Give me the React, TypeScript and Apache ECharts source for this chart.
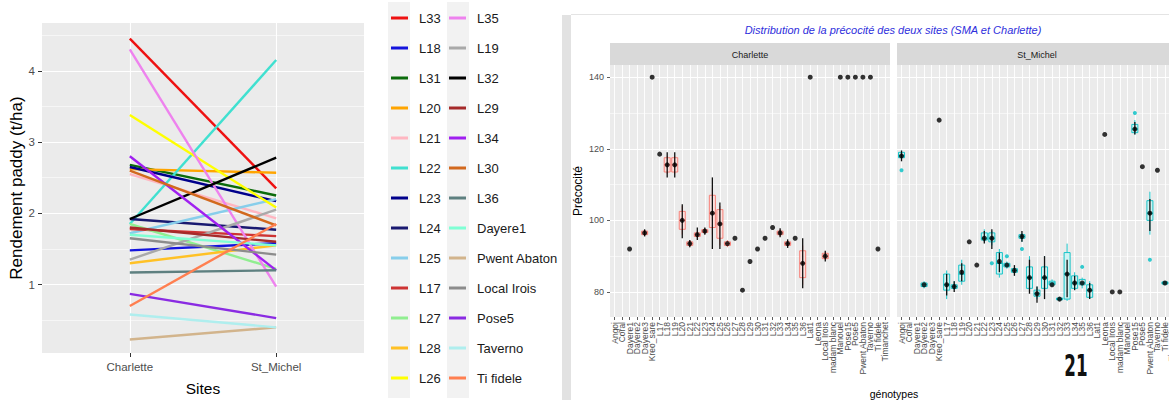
import React, { useEffect, useRef } from "react";
import * as echarts from "echarts";

// ---------- Left chart: yield per site ----------
const sites = ["Charlette", "St_Michel"];
const varieties = [
  "L33", "L18", "L31", "L20", "L21", "L22", "L23", "L24", "L25", "L17", "L27", "L28", "L26",
  "L35", "L19", "L32", "L29", "L34", "L30", "L36", "Dayere1", "Pwent Abaton", "Local Irois", "Pose5", "Taverno", "Ti fidele",
];
const yieldCharlette = [
  4.45, 1.48, 2.68, 2.62, 2.55, 1.85, 2.65, 1.92, 1.72, 1.78, 1.85, 1.3, 3.38,
  4.3, 1.35, 1.92, 1.8, 2.8, 2.6, 1.17, 1.7, 0.23, 1.65, 0.87, 0.58, 0.7,
];
const yieldStMichel = [
  2.35, 1.58, 2.25, 2.57, 1.93, 4.15, 2.17, 1.77, 2.2, 1.68, 1.22, 1.55, 2.08,
  0.97, 2.05, 2.78, 1.6, 1.2, 1.83, 1.2, 1.55, 0.4, 1.42, 0.53, 0.4, 1.85,
];
const lineColors = [
  "#EE1111", "#1414DD", "#0B6B0B", "#FFA500", "#FFB6C1", "#40E0D0", "#00008B", "#191970", "#87CEEB", "#CD3333", "#90EE90", "#FFC125", "#FFFF00",
  "#EE82EE", "#A9A9A9", "#000000", "#A52A2A", "#A020F0", "#D2691E", "#5E8080", "#7FFFD4", "#D2B48C", "#8C8C8C", "#8A2BE2", "#AFEEEE", "#FF7F50",
];
const legendCol1 = ["L33", "L18", "L31", "L20", "L21", "L22", "L23", "L24", "L25", "L17", "L27", "L28", "L26"];
const legendCol2 = ["L35", "L19", "L32", "L29", "L34", "L30", "L36", "Dayere1", "Pwent Abaton", "Local Irois", "Pose5", "Taverno", "Ti fidele"];
const yieldTicks = [1, 2, 3, 4];
const yieldMinor = [0.5, 1.5, 2.5, 3.5, 4.5];

// ---------- Right chart: precocity per genotype ----------
const genotypes = [
  "Angoi", "Coral", "Dayere1", "Dayere2", "Dayere3", "Kreo_sare", "L17", "L18", "L19", "L20", "L21", "L22", "L23", "L24",
  "L25", "L26", "L27", "L28", "L29", "L30", "L31", "L32", "L33", "L34", "L35", "L36", "Lat1", "Leona", "Local Irois",
  "madam blanc", "Manouel", "Pose15", "Pose5", "Pwent Abaton", "Taverno", "Ti fidele", "Timanchet",
];
const precTicks = [80, 100, 120, 140];
const precMinor = [90, 110, 130];

const charletteMeans: [string, number][] = [
  ["Dayere1", 92], ["Dayere3", 96.5], ["Kreo_sare", 140], ["L17", 118.5], ["L18", 115.5], ["L19", 115.5], ["L20", 100],
  ["L21", 93.5], ["L22", 96], ["L23", 97], ["L24", 102], ["L25", 99], ["L26", 93.5], ["L27", 95], ["L28", 80.5],
  ["L29", 88.5], ["L30", 92], ["L31", 95], ["L32", 98], ["L33", 96.5], ["L34", 93.5], ["L35", 95], ["L36", 88],
  ["Lat1", 140], ["Local Irois", 90], ["Manouel", 140], ["Pose15", 140], ["Pose5", 140], ["Pwent Abaton", 140],
  ["Taverno", 140], ["Ti fidele", 92],
];
const charletteBoxes: [string, number, number, number, number, number][] = [
  ["Dayere3", 95.8, 96, 96.5, 97, 97.3], ["L18", 113, 113.5, 115.5, 117.5, 118], ["L19", 113, 113.5, 115.5, 117.5, 118],
  ["L20", 96, 97.5, 100, 102.5, 104], ["L21", 92.5, 93, 93.5, 94, 94.5], ["L22", 95, 95.5, 96, 96.5, 97],
  ["L23", 96.3, 96.6, 97, 97.4, 97.7], ["L24", 96, 98, 102, 107, 109], ["L25", 93, 95, 99, 103, 104],
  ["L26", 92.5, 93, 93.5, 94, 94.5], ["L33", 95.5, 96, 96.5, 97, 97.5], ["L34", 92.5, 93, 93.5, 94, 94.5],
  ["L36", 82, 84, 88, 91.5, 93], ["Local Irois", 89, 89.3, 90, 90.8, 91.2],
];
const charletteErrors: [string, number, number][] = [
  ["Dayere3", 95.5, 97.5], ["L18", 112, 119], ["L19", 112, 119], ["L20", 95, 104.5], ["L21", 92.5, 94.5],
  ["L22", 94.5, 98], ["L23", 96, 98], ["L24", 92, 112], ["L25", 92, 105], ["L33", 95.3, 97.8], ["L34", 92.3, 94.7],
  ["L36", 81, 95], ["Local Irois", 88.5, 91.5],
];
const charletteOutliers: [string, number][] = [];

const stMichelMeans: [string, number][] = [
  ["Angoi", 118], ["Dayere2", 82], ["Kreo_sare", 128], ["L17", 82], ["L18", 81.5], ["L19", 85.5], ["L20", 94],
  ["L21", 87.5], ["L22", 95], ["L23", 95], ["L24", 88.5], ["L25", 87.5], ["L26", 86], ["L27", 95.5], ["L28", 84],
  ["L29", 79.5], ["L30", 84], ["L31", 82], ["L32", 78], ["L33", 85], ["L34", 82.5], ["L35", 82.5], ["L36", 80.5],
  ["Leona", 124], ["Local Irois", 80], ["madam blanc", 80], ["Pose15", 125.5], ["Pose5", 115], ["Pwent Abaton", 102],
  ["Taverno", 114], ["Ti fidele", 82.5],
];
const stMichelBoxes: [string, number, number, number, number, number][] = [
  ["Angoi", 117, 117.5, 118, 119, 119.5], ["Dayere2", 81, 81.5, 82, 82.5, 83], ["L17", 78, 80.5, 82, 85, 86],
  ["L18", 80.5, 81, 81.5, 82, 83], ["L19", 82, 83, 85, 87.5, 89], ["L22", 94, 94.5, 95, 96.5, 97.5],
  ["L23", 93, 94, 95, 96.5, 97], ["L24", 84, 85, 88, 91, 92], ["L25", 86.5, 87, 87.5, 88, 88.5],
  ["L26", 85, 85.5, 86, 86.5, 87], ["L27", 94, 95, 95.5, 96, 96.5], ["L28", 80, 81, 84, 87, 90],
  ["L29", 78, 78.8, 79.5, 80.5, 81.5], ["L30", 80, 81, 84, 87, 90], ["L31", 81.5, 82, 82.5, 83, 83.5],
  ["L32", 77.5, 77.8, 78, 78.3, 78.5], ["L33", 77.5, 78, 85, 91, 93.5], ["L34", 80.5, 81, 82.5, 84.5, 85.5],
  ["L35", 81, 82, 82.5, 83.5, 84], ["L36", 78, 78.5, 80.5, 82, 83], ["Pose15", 124, 124.5, 125.5, 126.8, 128],
  ["Pwent Abaton", 96, 100, 102, 105.5, 108], ["Ti fidele", 82, 82.2, 82.5, 82.8, 83],
];
const stMichelErrors: [string, number, number][] = [
  ["Angoi", 116.5, 119.5], ["L17", 79, 85], ["L18", 80, 83], ["L19", 83, 88], ["L22", 93.5, 97], ["L23", 92, 97.5],
  ["L24", 85.5, 91], ["L26", 84.5, 87.5], ["L27", 94, 97], ["L28", 79.5, 89], ["L29", 77, 81.5], ["L30", 78, 90],
  ["L33", 78.5, 89], ["L34", 80.5, 84.5], ["L36", 78, 82.5], ["Pose15", 124, 127.5], ["Pwent Abaton", 97, 106],
];
const stMichelOutliers: [string, number][] = [
  ["Angoi", 114], ["L23", 88], ["L25", 90], ["L27", 92], ["L35", 87], ["Pose15", 130], ["Pwent Abaton", 89],
];

const FONT = "'Liberation Sans', Arial, Helvetica, sans-serif";
const genoIndex = (name: string) => genotypes.indexOf(name) + 1;
const genoTicks = genotypes.map((_, i) => i + 1);
const oddTicks = genoTicks.filter((v) => v % 2 === 1);
const evenTicks = genoTicks.filter((v) => v % 2 === 0);

const majorLine = { color: "#FFFFFF", width: 1.1, type: "solid" };
const minorLine = { color: "#FFFFFF", width: 0.55, type: "solid" };

function gridMarkLine(items: any[]) {
  return {
    silent: true,
    symbol: ["none", "none"],
    z: 1,
    animation: false,
    label: { show: false },
    emphasis: { disabled: true },
    data: items,
  };
}

function facetSeries(
  axis: number,
  boxes: [string, number, number, number, number, number][],
  errors: [string, number, number][],
  means: [string, number][],
  outliers: [string, number][],
  boxFill: string,
  boxBorder: string,
  outlierColor: string
) {
  return [
    {
      type: "line",
      name: "_grid" + axis,
      xAxisIndex: axis,
      yAxisIndex: axis,
      data: [],
      silent: true,
      markLine: gridMarkLine([
        ...genoTicks.map((v) => ({ xAxis: v, lineStyle: { ...majorLine, width: 0.9 } })),
        ...precTicks.map((v) => ({ yAxis: v, lineStyle: majorLine })),
        ...precMinor.map((v) => ({ yAxis: v, lineStyle: minorLine })),
      ]),
    },
    {
      type: "custom",
      name: "_box" + axis,
      xAxisIndex: axis,
      yAxisIndex: axis,
      z: 3,
      silent: true,
      encode: { x: 0, y: [1, 2, 3, 4, 5] },
      data: boxes.map((b) => [genoIndex(b[0]), b[1], b[2], b[3], b[4], b[5]]),
      renderItem: (_params: any, api: any) => {
        const x = api.value(0);
        const lo = api.coord([x, api.value(1)]);
        const q1 = api.coord([x, api.value(2)]);
        const md = api.coord([x, api.value(3)]);
        const q3 = api.coord([x, api.value(4)]);
        const hi = api.coord([x, api.value(5)]);
        const w = api.size([0.8, 0])[0];
        const line = { stroke: boxBorder, lineWidth: 0.9 };
        return {
          type: "group",
          children: [
            { type: "line", shape: { x1: lo[0], y1: lo[1], x2: q1[0], y2: q1[1] }, style: line },
            { type: "line", shape: { x1: q3[0], y1: q3[1], x2: hi[0], y2: hi[1] }, style: line },
            {
              type: "rect",
              shape: { x: q3[0] - w / 2, y: q3[1], width: w, height: Math.max(q1[1] - q3[1], 0.5) },
              style: { fill: boxFill, stroke: boxBorder, lineWidth: 0.9 },
            },
            { type: "line", shape: { x1: md[0] - w / 2, y1: md[1], x2: md[0] + w / 2, y2: md[1] }, style: { stroke: boxBorder, lineWidth: 1.3 } },
          ],
        };
      },
    },
    {
      type: "scatter",
      name: "_out" + axis,
      xAxisIndex: axis,
      yAxisIndex: axis,
      symbolSize: 4,
      z: 4,
      silent: true,
      itemStyle: { color: outlierColor },
      data: outliers.map((o) => [genoIndex(o[0]), o[1]]),
    },
    {
      type: "custom",
      name: "_err" + axis,
      xAxisIndex: axis,
      yAxisIndex: axis,
      z: 5,
      silent: true,
      encode: { x: 0, y: [1, 2] },
      data: errors.map((e) => [genoIndex(e[0]), e[1], e[2]]),
      renderItem: (_params: any, api: any) => {
        const a = api.coord([api.value(0), api.value(1)]);
        const b = api.coord([api.value(0), api.value(2)]);
        return {
          type: "line",
          shape: { x1: a[0], y1: a[1], x2: b[0], y2: b[1] },
          style: { stroke: "#111111", lineWidth: 1.3 },
        };
      },
    },
    {
      type: "scatter",
      name: "_mean" + axis,
      xAxisIndex: axis,
      yAxisIndex: axis,
      symbolSize: 5,
      z: 6,
      silent: true,
      itemStyle: { color: "#000000" },
      data: means.map((m) => [genoIndex(m[0]), m[1]]),
    },
  ];
}

function legendOf(names: string[], left: number) {
  return {
    orient: "vertical",
    left,
    top: 11,
    padding: 0,
    itemGap: 16,
    itemWidth: 17,
    itemHeight: 3,
    icon: "rect",
    selectedMode: false,
    data: names,
    textStyle: { fontSize: 13, color: "#1A1A1A", lineHeight: 14, fontFamily: FONT, padding: [0, 0, 0, 6] },
  };
}

// Two x axes per facet (odd and even genotypes) so that no label is dropped for overlap.
function facetXAxis(grid: number, labelValues: number[], withTicks: boolean) {
  return {
    gridIndex: grid,
    type: "value",
    position: "bottom",
    offset: 0,
    min: 0.4,
    max: 37.6,
    axisLine: { show: false },
    splitLine: { show: false },
    axisTick: { show: withTicks, customValues: genoTicks, length: 3, lineStyle: { color: "#333333", width: 0.8 } },
    axisLabel: {
      customValues: labelValues,
      rotate: 90,
      showMinLabel: true,
      showMaxLabel: true,
      hideOverlap: false,
      formatter: (v: number) => genotypes[Math.round(v) - 1] || "",
      fontSize: 8.5,
      color: "#4D4D4D",
      margin: 5,
      fontFamily: FONT,
    },
  };
}

function buildOption() {
  const series: any[] = [];
  series.push({
    type: "line",
    name: "_grid0",
    xAxisIndex: 0,
    yAxisIndex: 0,
    data: [],
    silent: true,
    markLine: gridMarkLine([
      ...[1, 2].map((v) => ({ xAxis: v, lineStyle: majorLine })),
      ...yieldTicks.map((v) => ({ yAxis: v, lineStyle: majorLine })),
      ...yieldMinor.map((v) => ({ yAxis: v, lineStyle: minorLine })),
    ]),
  });
  varieties.forEach((name, i) => {
    series.push({
      type: "line",
      name,
      xAxisIndex: 0,
      yAxisIndex: 0,
      data: [
        [1, yieldCharlette[i]],
        [2, yieldStMichel[i]],
      ],
      symbol: "none",
      color: lineColors[i],
      itemStyle: { color: lineColors[i] },
      lineStyle: { color: lineColors[i], width: 2.4 },
      z: 3,
      emphasis: { disabled: true },
    });
  });
  series.push(
    ...facetSeries(1, charletteBoxes, charletteErrors, charletteMeans, charletteOutliers, "#FCE1DE", "#F8766D", "#F8766D")
  );
  series.push(
    ...facetSeries(2, stMichelBoxes, stMichelErrors, stMichelMeans, stMichelOutliers, "#CFF3F3", "#00BFC4", "#00BFC4")
  );

  const gridBase = { show: true, backgroundColor: "#EBEBEB", borderWidth: 0, borderColor: "transparent", containLabel: false, outerBoundsMode: "none" };

  return {
    animation: false,
    backgroundColor: "#FFFFFF",
    textStyle: { fontFamily: FONT },
    grid: [
      { ...gridBase, left: 42, top: 23, width: 322, height: 330 },
      { ...gridBase, left: 610, top: 65, width: 280, height: 252 },
      { ...gridBase, left: 897, top: 65, width: 280, height: 252 },
    ],
    legend: [legendOf(legendCol1, 391), legendOf(legendCol2, 449)],
    xAxis: [
      {
        gridIndex: 0,
        type: "value",
        min: 0.4,
        max: 2.6,
        axisLine: { show: false },
        splitLine: { show: false },
        axisTick: { show: true, customValues: [1, 2], length: 4, lineStyle: { color: "#333333" } },
        axisLabel: {
          customValues: [1, 2],
          formatter: (v: number) => sites[Math.round(v) - 1] || "",
          fontSize: 11.5,
          color: "#4D4D4D",
          margin: 8,
          fontFamily: FONT,
        },
        name: "Sites",
        nameLocation: "middle",
        nameGap: 27,
        nameTextStyle: { fontSize: 15.5, color: "#000000", fontFamily: FONT },
      },
      facetXAxis(1, oddTicks, true),
      facetXAxis(2, oddTicks, true),
      facetXAxis(1, evenTicks, false),
      facetXAxis(2, evenTicks, false),
    ],
    yAxis: [
      {
        gridIndex: 0,
        type: "value",
        min: 0.04,
        max: 4.67,
        axisLine: { show: false },
        splitLine: { show: false },
        axisTick: { show: true, customValues: yieldTicks, length: 4, lineStyle: { color: "#333333" } },
        axisLabel: { customValues: yieldTicks, fontSize: 11.5, color: "#4D4D4D", margin: 7, fontFamily: FONT },
        name: "Rendement paddy (t/ha)",
        nameLocation: "middle",
        nameRotate: 90,
        nameGap: 17,
        nameMoveOverlap: false,
        nameTextStyle: { fontSize: 17, color: "#000000", fontFamily: FONT },
      },
      {
        gridIndex: 1,
        type: "value",
        min: 73,
        max: 143.4,
        axisLine: { show: false },
        splitLine: { show: false },
        axisTick: { show: true, customValues: precTicks, length: 3, lineStyle: { color: "#333333", width: 0.8 } },
        axisLabel: { customValues: precTicks, fontSize: 9, color: "#4D4D4D", margin: 6, fontFamily: FONT },
        name: "Précocité",
        nameLocation: "middle",
        nameRotate: 90,
        nameGap: 26,
        nameMoveOverlap: false,
        nameTextStyle: { fontSize: 12, color: "#000000", fontFamily: FONT },
      },
      {
        gridIndex: 2,
        type: "value",
        min: 73,
        max: 143.4,
        axisLine: { show: false },
        splitLine: { show: false },
        axisTick: { show: false },
        axisLabel: { show: false },
      },
    ],
    graphic: [
      { type: "rect", silent: true, z: -1, shape: { x: 388, y: 2, width: 22, height: 396 }, style: { fill: "#F2F2F2" } },
      { type: "rect", silent: true, z: -1, shape: { x: 447, y: 2, width: 22, height: 396 }, style: { fill: "#F2F2F2" } },
      { type: "rect", silent: true, shape: { x: 562, y: 15, width: 9, height: 385 }, style: { fill: "#E2E2E2" } },
      { type: "line", silent: true, shape: { x1: 571, y1: 14.5, x2: 1169, y2: 14.5 }, style: { stroke: "#E4E4E4", lineWidth: 1 } },
      {
        type: "text",
        silent: true,
        x: 893,
        y: 30,
        style: {
          text: "Distribution de la précocité des deux sites (SMA et Charlette)",
          fill: "#2E2EDC",
          fontSize: 11,
          fontStyle: "italic",
          fontFamily: FONT,
          align: "center",
          verticalAlign: "middle",
        },
      },
      { type: "rect", silent: true, shape: { x: 610, y: 43, width: 280, height: 22 }, style: { fill: "#D9D9D9" } },
      { type: "rect", silent: true, shape: { x: 897, y: 43, width: 280, height: 22 }, style: { fill: "#D9D9D9" } },
      {
        type: "text",
        silent: true,
        x: 750,
        y: 55,
        style: { text: "Charlette", fill: "#1A1A1A", fontSize: 9, fontFamily: FONT, align: "center", verticalAlign: "middle" },
      },
      {
        type: "text",
        silent: true,
        x: 1037,
        y: 55,
        style: { text: "St_Michel", fill: "#1A1A1A", fontSize: 9, fontFamily: FONT, align: "center", verticalAlign: "middle" },
      },
      {
        type: "text",
        silent: true,
        x: 894,
        y: 394,
        style: { text: "génotypes", fill: "#000000", fontSize: 10.5, fontFamily: FONT, align: "center", verticalAlign: "middle" },
      },
      {
        type: "text",
        silent: true,
        x: 1076,
        y: 365,
        scaleX: 0.6,
        z: 10,
        style: {
          text: "21",
          fill: "#111111",
          fontSize: 31,
          fontWeight: "bold",
          fontFamily: "'DejaVu Sans Condensed', 'DejaVu Sans', sans-serif",
          align: "center",
          verticalAlign: "middle",
        },
      },
    ],
    series,
  };
}

export default function App() {
  const ref = useRef<HTMLDivElement>(null);
  useEffect(() => {
    document.body.style.margin = "0";
    const chart = echarts.init(ref.current as HTMLDivElement, null, { renderer: "svg" });
    chart.setOption(buildOption() as any);
    return () => chart.dispose();
  }, []);
  return <div ref={ref} style={{ width: 1169, height: 400 }} />;
}
